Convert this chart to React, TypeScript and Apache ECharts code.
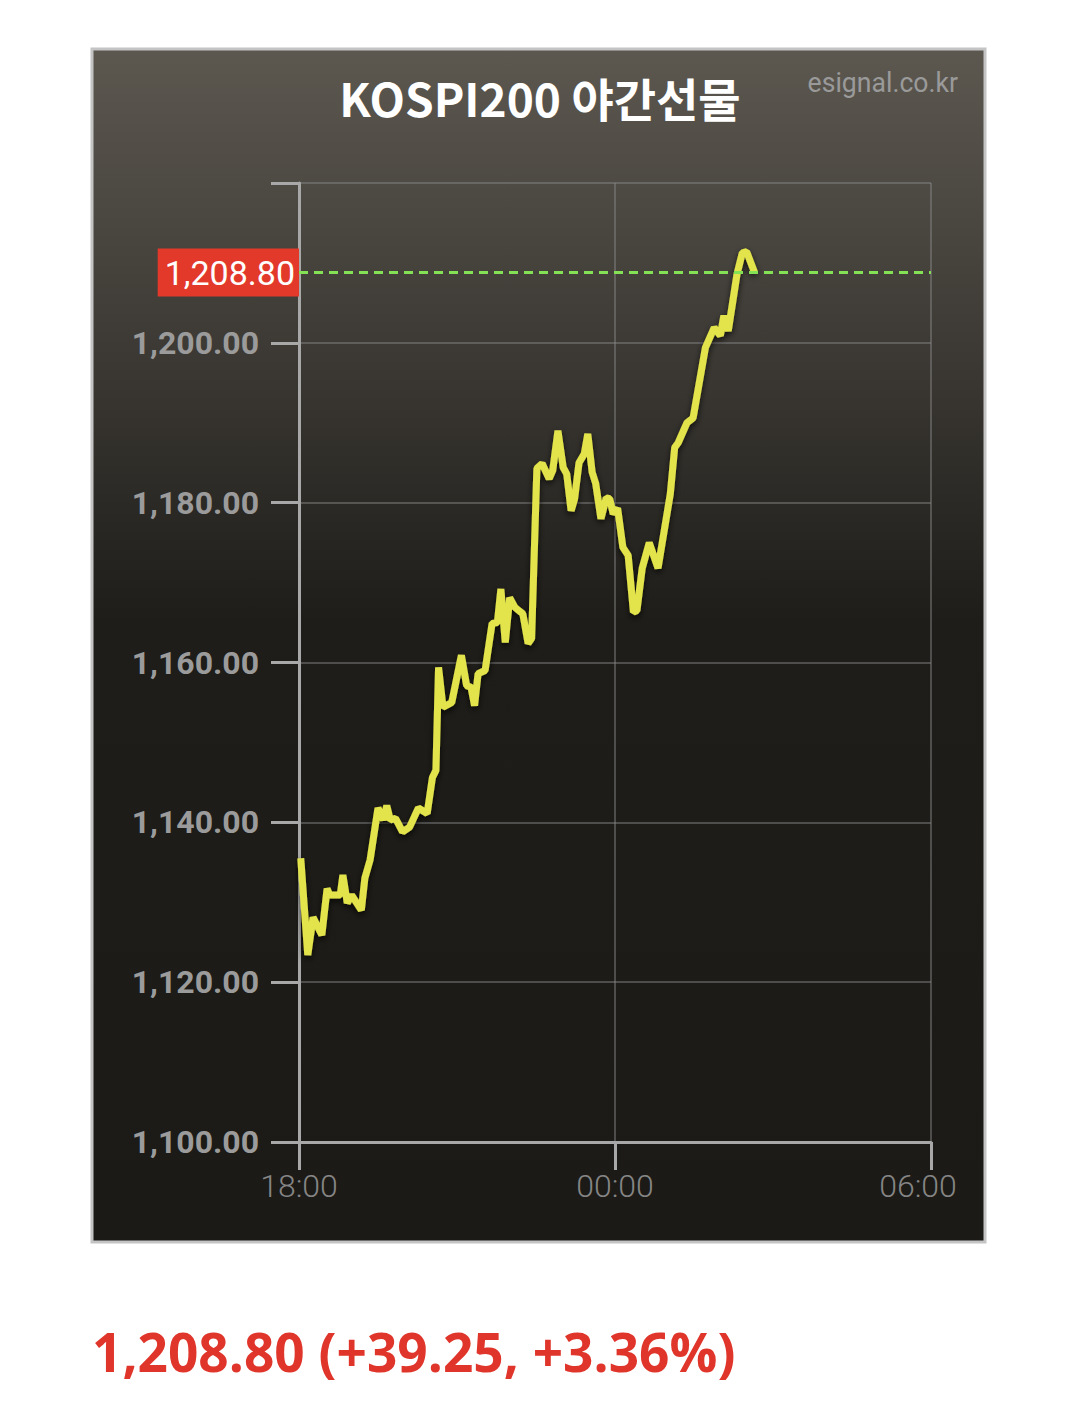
import React, { useEffect, useRef } from "react";
import * as echarts from "echarts";

// minutes after 18:00, price
const timesMin = [2,10,16,26,32,35,47,50,55,60,71,75,81,90,96,100,104,110,118,126,136,146,152,156,159,164,174,185,191,196,200,204,212,220,226,230,235,240,246,255,261,265,271,277,285,289,295,301,305,310,314,319,325,329,334,338,344,350,354,358,363,369,375,381,385,391,399,409,423,428,432,442,449,463,473,480,484,489,499,505,510,519];
const prices = [1135.5,1123.4,1128.1,1125.9,1131.7,1130.9,1130.9,1133.4,1129.9,1130.9,1129.0,1133.0,1135.3,1141.8,1140.3,1142.1,1140.3,1140.5,1138.8,1139.4,1141.8,1141.1,1145.6,1146.5,1159.4,1154.4,1155.0,1160.9,1157.1,1156.9,1154.6,1158.6,1159.0,1164.9,1165.0,1169.2,1162.5,1168.1,1166.9,1166.1,1162.4,1163.0,1184.3,1184.9,1183.0,1184.0,1189.0,1184.4,1183.6,1179.0,1180.5,1185.0,1186.1,1188.6,1183.8,1182.4,1178.0,1180.6,1180.5,1178.6,1179.3,1174.4,1173.4,1166.3,1166.5,1171.8,1175.0,1171.8,1181.1,1186.9,1187.5,1190.0,1190.6,1199.4,1201.9,1200.9,1203.4,1201.5,1208.6,1211.25,1211.4,1208.8];
const xTickLabels = ["18:00", "00:00", "06:00"];
const lastPrice = 1208.8;
const title = "KOSPI200 야간선물";
const source = "esignal.co.kr";
const summary = "1,208.80 (+39.25, +3.36%)";

const fmt = (v: number) =>
  v.toLocaleString("en-US", { minimumFractionDigits: 2, maximumFractionDigits: 2 });

export default function App() {
  const ref = useRef<HTMLDivElement>(null);
  useEffect(() => {
    const chart = echarts.init(ref.current!, null, { renderer: "svg" });
    const data = timesMin.map((t, i) => [t, prices[i]]);
    chart.setOption({
      animation: false,
      backgroundColor: "#ffffff",
      graphic: [
        {
          type: "rect",
          z: -10,
          silent: true,
          shape: { x: 92, y: 49, width: 893, height: 1193 },
          style: {
            fill: new echarts.graphic.LinearGradient(0, 0, 0, 1, [
              { offset: 0, color: "#5c5850" },
              { offset: 0.25, color: "#3d3a35" },
              { offset: 0.48, color: "#1e1d19" },
              { offset: 1, color: "#1b1a16" },
            ]),
            stroke: "#c4c4c4",
            lineWidth: 3,
          },
        },
        {
          type: "text",
          x: 540,
          y: 97,
          style: {
            text: title,
            fill: "#ffffff",
            font: 'bold 46px "Noto Sans CJK KR"',
            align: "center",
            verticalAlign: "middle",
          },
        },
        {
          type: "text",
          x: 958,
          y: 83,
          scaleX: 0.95,
          style: {
            text: source,
            fill: "#9a9a9a",
            font: '28px Roboto',
            align: "right",
            verticalAlign: "middle",
          },
        },
        {
          type: "text",
          x: 92,
          y: 1351,
          scaleX: 0.985,
          style: {
            text: summary,
            fill: "#e0352b",
            font: 'bold 54px "Open Sans"',
            align: "left",
            verticalAlign: "middle",
          },
        },
      ],
      grid: { left: 299, right: 149, top: 183, bottom: 277, containLabel: false },
      xAxis: {
        type: "value",
        min: 0,
        max: 720,
        interval: 360,
        axisLine: { show: true, lineStyle: { color: "#a8a8a8", width: 3 } },
        axisTick: { show: true, length: 28, lineStyle: { color: "#a8a8a8", width: 3 } },
        splitLine: { show: true, lineStyle: { color: "rgba(140,140,140,0.45)", width: 2 } },
        axisLabel: {
          margin: 28,
          color: "#858585",
          fontSize: 32,
          fontFamily: "Roboto",
          fontWeight: 300,
          formatter: (v: number) => {
            const i = Math.round(v / 360);
            const s = xTickLabels[i] ?? "";
            return i === xTickLabels.length - 1 ? `{last|${s}}` : s;
          },
          rich: {
            last: {
              color: "#858585",
              fontSize: 32,
              fontFamily: "Roboto",
              fontWeight: 300,
              padding: [0, 26, 0, 0],
            },
          },
        },
      },
      yAxis: {
        type: "value",
        min: 1100,
        max: 1220,
        interval: 20,
        axisLine: { show: true, lineStyle: { color: "#a8a8a8", width: 3 } },
        axisTick: { show: true, length: 28, lineStyle: { color: "#a8a8a8", width: 3 } },
        splitLine: { show: true, lineStyle: { color: "rgba(140,140,140,0.45)", width: 2 } },
        axisLabel: {
          margin: 40,
          color: "#9b9b9b",
          fontSize: 32,
          fontFamily: "Roboto",
          fontWeight: "bold",
          formatter: (v: number) => (v >= 1220 ? "" : fmt(v)),
        },
      },
      series: [
        {
          type: "line",
          data,
          symbol: "none",
          lineStyle: {
            color: "#e3e44c",
            width: 7,
            shadowColor: "rgba(0,0,0,0.7)",
            shadowBlur: 6,
            shadowOffsetY: 3,
          },
          markLine: {
            silent: true,
            symbol: "none",
            lineStyle: { color: "#84e054", type: [9, 6], width: 3 },
            data: [{ yAxis: lastPrice }],
            label: {
              show: true,
              position: "start",
              distance: 0,
              formatter: () => fmt(lastPrice),
              backgroundColor: "#e3392b",
              color: "#ffffff",
              fontSize: 34,
              fontFamily: "Roboto",
              lineHeight: 36,
              padding: [6, 4, 6, 7],
            },
          },
        },
      ],
    });
    return () => chart.dispose();
  }, []);
  return (
    <div
      ref={ref}
      style={{ position: "absolute", left: 0, top: 0, width: 1080, height: 1419 }}
    />
  );
}
